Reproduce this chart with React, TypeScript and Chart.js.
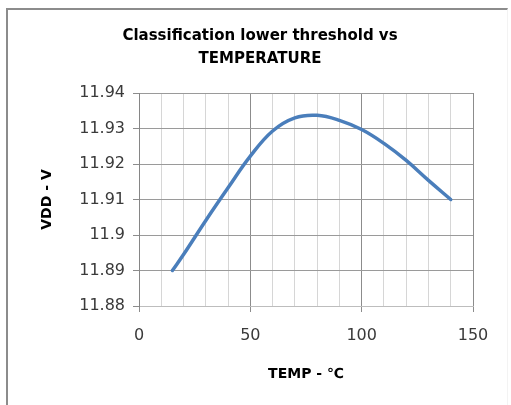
import React, { useEffect, useRef } from "react";
import { Chart, registerables } from "chart.js";

Chart.register(...registerables);

// ---- data ----
const temps = [15, 20, 30, 40, 50, 60, 70, 80, 90, 100, 110, 120, 130, 140];
const vdd = [11.89, 11.8945, 11.9041, 11.9133, 11.9222, 11.9293, 11.9330, 11.9337, 11.9323, 11.9297, 11.9258, 11.921, 11.9154, 11.91];
const titleLines = ["Classification lower threshold vs", "TEMPERATURE"];
const xTitle = "TEMP - \u2103";
const yTitle = "VDD - V";
const xMin = 0;
const xMax = 150;
const xStep = 10;
const xLabelStep = 50;
const yMin = 11.88;
const yMax = 11.94;
const yStep = 0.01;

export default function App() {
  const ref = useRef<HTMLCanvasElement | null>(null);

  useEffect(() => {
    if (!ref.current) return;
    const isMajor = (v: number) => Math.abs(v / xLabelStep - Math.round(v / xLabelStep)) < 1e-6;
    const chart = new Chart(ref.current, {
      type: "line",
      data: {
        datasets: [
          {
            data: temps.map((t, i) => ({ x: t, y: vdd[i] })),
            borderColor: "#4a7ebb",
            borderWidth: 3.5,
            borderCapStyle: "round",
            pointRadius: 0,
            tension: 0.4,
            fill: false,
            xAxisID: "x",
            yAxisID: "y",
          },
        ],
      },
      options: {
        animation: false,
        responsive: false,
        devicePixelRatio: 1,
        layout: { padding: { left: 9, right: 0, top: 0, bottom: 0 } },
        plugins: {
          legend: { display: false },
          tooltip: { enabled: false },
          title: {
            display: true,
            text: titleLines,
            color: "#000",
            font: { family: "'DejaVu Sans'", size: 15, weight: "bold", lineHeight: 23 / 15 },
            padding: { top: 24.5, bottom: 22.5 },
          },
        },
        scales: {
          x: {
            type: "linear",
            min: xMin,
            max: xMax,
            afterFit: (s: any) => {
              s.height = 99;
            },
            ticks: {
              stepSize: xStep,
              autoSkip: false,
              maxRotation: 0,
              padding: 14,
              color: "#3a3a3a",
              font: { family: "'DejaVu Sans'", size: 16 },
              callback: (v: any) => (isMajor(Number(v)) ? String(v) : ""),
            },
            grid: {
              color: (c: any) => (isMajor(c.tick.value) ? "#8c8c8c" : "#d6d6d6"),
              tickColor: (c: any) => (isMajor(c.tick.value) ? "#8c8c8c" : "rgba(0,0,0,0)"),
              tickLength: 6,
              lineWidth: 1,
            },
            border: { color: "#bdbdbd", width: 1 },
            title: {
              display: true,
              text: xTitle,
              color: "#000",
              font: { family: "'DejaVu Sans'", size: 14, weight: "bold", lineHeight: 1.2 },
              padding: { top: 0, bottom: 22.6 },
            },
          },
          y: {
            type: "linear",
            position: "left",
            min: yMin,
            max: yMax,
            afterFit: (s: any) => {
              s.width = 130;
            },
            ticks: {
              stepSize: yStep,
              padding: 8,
              color: "#3a3a3a",
              font: { family: "'DejaVu Sans'", size: 16 },
              callback: (v: any) => String(Math.round(Number(v) * 100) / 100),
            },
            grid: {
              color: "#9a9a9a",
              tickColor: "#8c8c8c",
              tickLength: 6,
              lineWidth: 1,
            },
            border: { color: "#868686", width: 1 },
            title: {
              display: true,
              text: yTitle,
              color: "#000",
              font: { family: "'DejaVu Sans'", size: 14, weight: "bold", lineHeight: 1.2 },
              padding: { top: 29.6, bottom: 0 },
            },
          },
          yRight: {
            type: "linear",
            position: "right",
            display: true,
            min: yMin,
            max: yMax,
            afterFit: (s: any) => {
              s.width = 38;
            },
            ticks: { display: false },
            grid: { drawOnChartArea: false, drawTicks: false },
            border: { display: false },
          },
        },
      },
    } as any);
    return () => chart.destroy();
  }, []);

  return (
    <div
      style={{
        position: "absolute",
        left: 0,
        top: 0,
        width: 511,
        height: 405,
        overflow: "hidden",
        background: "#fff",
      }}
    >
      <canvas ref={ref} width={511} height={405} style={{ display: "block", width: 511, height: 405 }} />
      <div
        style={{
          position: "absolute",
          left: 6,
          top: 8,
          width: 502,
          height: 420,
          boxSizing: "border-box",
          borderLeft: "2px solid #8c8c8c",
          borderTop: "2px solid #8c8c8c",
          borderRight: "1px solid #f3f3f3",
          pointerEvents: "none",
        }}
      />
    </div>
  );
}
